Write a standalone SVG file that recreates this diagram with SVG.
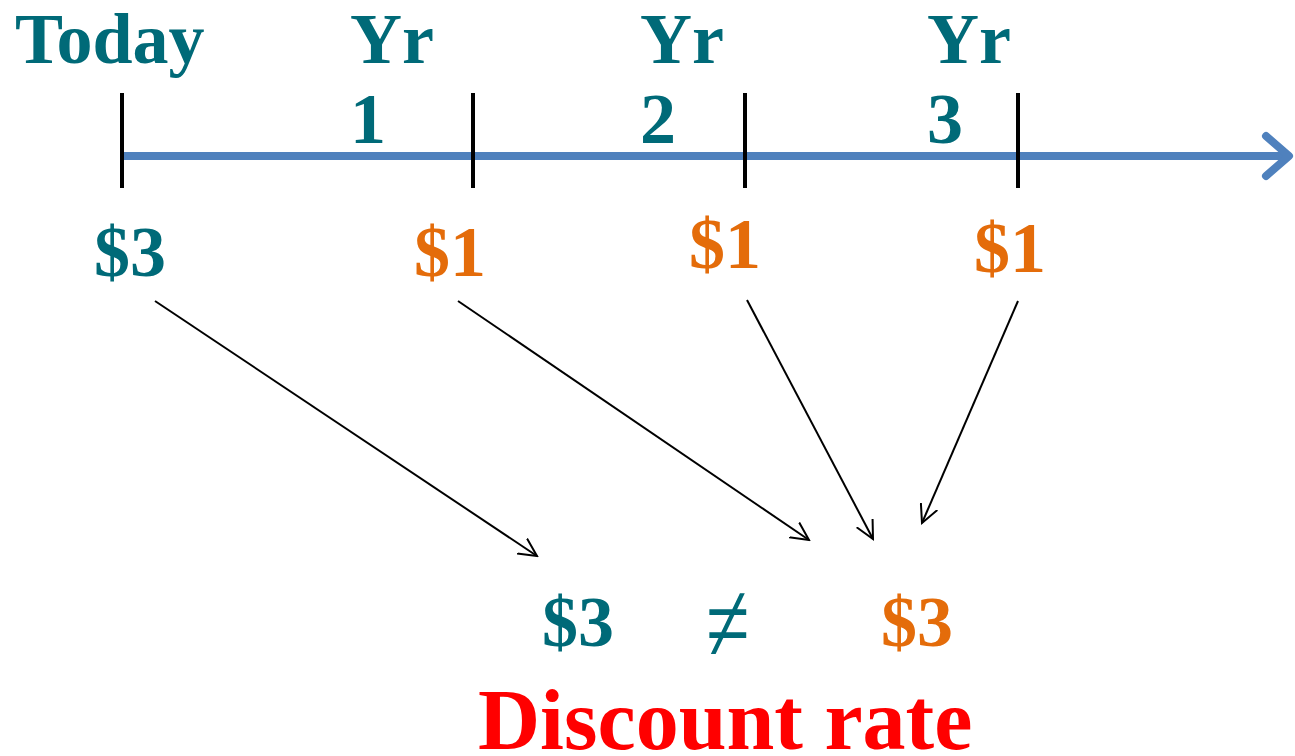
<svg xmlns="http://www.w3.org/2000/svg" width="1295" height="756" viewBox="0 0 1295 756">
<style>
text{font-family:"Liberation Serif","Times New Roman",serif;font-weight:bold;font-size:72px}
.teal{fill:#006A78}
.org{fill:#E46C0A}
.tick{stroke:#000;stroke-width:4}
.conn{stroke:#000;stroke-width:2;fill:none;marker-end:url(#ah)}
</style>
<defs>
<marker id="ah" viewBox="0 0 20 20" refX="18" refY="10" markerWidth="20" markerHeight="20" markerUnits="userSpaceOnUse" orient="auto">
<path d="M0,1 L18,10 L0,19" fill="none" stroke="#000" stroke-width="2"/>
</marker>
</defs>
<g id="timeline">
<line x1="122" y1="156" x2="1288" y2="156" stroke="#4F81BD" stroke-width="8"/>
<path d="M1266,136 L1289,156 L1266,176" fill="none" stroke="#4F81BD" stroke-width="8" stroke-linecap="round" stroke-linejoin="round"/>
<line class="tick" x1="122" y1="93" x2="122" y2="188"/>
<line class="tick" x1="473" y1="93" x2="473" y2="188"/>
<line class="tick" x1="745" y1="93" x2="745" y2="188"/>
<line class="tick" x1="1018" y1="93" x2="1018" y2="188"/>
</g>
<g id="labels">
<text class="teal" x="15" y="63">Today</text>
<text class="teal" x="350" y="63">Yr</text>
<text class="teal" x="350" y="143">1</text>
<text class="teal" x="640" y="63">Yr</text>
<text class="teal" x="640" y="143">2</text>
<text class="teal" x="927" y="63">Yr</text>
<text class="teal" x="927" y="143">3</text>
</g>
<g id="cash0"><text class="teal" x="94" y="276">$3</text></g>
<g id="cash1"><text class="org" x="414" y="276">$1</text></g>
<g id="cash2"><text class="org" x="689" y="268">$1</text></g>
<g id="cash3"><text class="org" x="974" y="272">$1</text></g>
<g id="connectors">
<line class="conn" x1="155" y1="301" x2="537" y2="556"/>
<line class="conn" x1="458" y1="301" x2="809" y2="540"/>
<line class="conn" x1="747" y1="300" x2="873" y2="539"/>
<line class="conn" x1="1018" y1="301" x2="922" y2="523"/>
</g>
<g id="compare">
<text class="teal" x="542" y="646">$3</text>
<text class="teal" transform="translate(706,662) scale(1.1,1.6)" x="0" y="0" style="font-weight:normal">≠</text>
<text class="org" x="881" y="646">$3</text>
</g>
<g id="discount"><text x="478" y="749" fill="#FF0000" style="font-size:86px">Discount rate</text></g>
</svg>
